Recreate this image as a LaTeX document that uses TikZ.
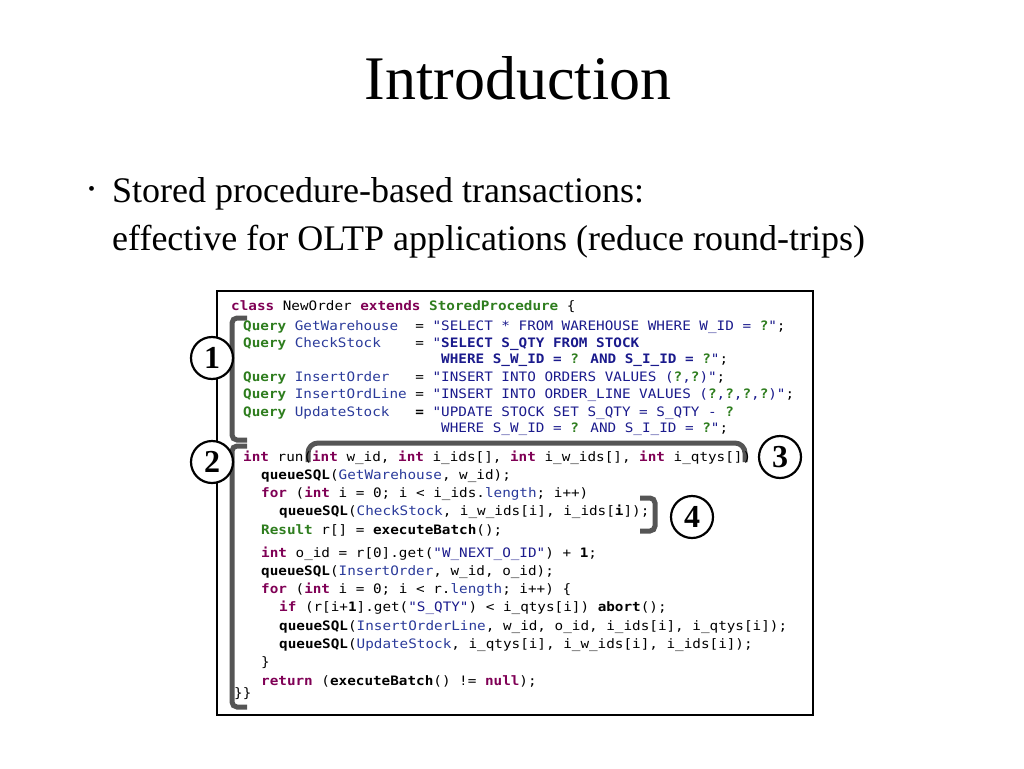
\documentclass[tikz,border=0pt]{standalone}
\usepackage{fontspec}
\setmainfont{Liberation Serif}
\newfontfamily\codefont[FakeStretch=1.1]{DejaVu Sans Mono}
\definecolor{kwc}{HTML}{7F0055}
\definecolor{tyc}{HTML}{2E7D1E}
\definecolor{idc}{HTML}{2A3A9A}
\definecolor{stc}{HTML}{1A1A8C}
\definecolor{brc}{HTML}{555555}
\newcommand{\kw}[1]{\textcolor{kwc}{\bfseries #1}}
\newcommand{\ty}[1]{\textcolor{tyc}{\bfseries #1}}
\newcommand{\iden}[1]{\textcolor{idc}{#1}}
\newcommand{\str}[1]{\textcolor{stc}{#1}}
\newcommand{\qm}{\textcolor{tyc}{\bfseries ?}}
\newcommand{\fn}[1]{\textbf{#1}}
\begin{document}
\begin{tikzpicture}[x=1pt,y=-1pt,
  code/.style={anchor=west,inner sep=0pt,font=\codefont\fontsize{13}{15}\selectfont},
  brk/.style={draw=brc,line width=5pt,rounded corners=5pt},
  num/.style={circle,draw,line width=2.2pt,minimum size=42pt,inner sep=0pt,font=\fontsize{32}{32}\selectfont\bfseries}]
\useasboundingbox (0,0) rectangle (1024,768);
\node[font=\fontsize{62}{64}\selectfont] (title) at (518,78) {Introduction};
\node[anchor=west,inner sep=0pt,font=\fontsize{20}{20}\selectfont] (bul) at (88,191) {•};
\node[anchor=base west,inner sep=0pt,font=\fontsize{36}{36}\selectfont] (txt1) at (112,202) {Stored procedure-based transactions:};
\node[anchor=base west,inner sep=0pt,font=\fontsize{36}{36}\selectfont] (txt2) at (112,250) {effective for OLTP applications (reduce round-trips)};
\node[draw,line width=1.5pt,minimum width=596pt,minimum height=424pt,anchor=north west,inner sep=0pt] (box) at (216,290) {};
% brackets
\draw[brk] (247,318) -- (232,318) -- (232,440) -- (247,440);
\draw[brk] (247,446) -- (232,446) -- (232,707) -- (247,707);
\draw[brk,rounded corners=10pt] (308,462) -- (308,443) -- (745,443) -- (745,462);
\draw[brk] (640,498) -- (655,498) -- (655,531) -- (640,531);
\node[num,fill=white] (n1) at (212,358) {1};
\node[num,fill=white] (n2) at (212,462) {2};
\node[num,fill=white] (n3) at (780,457) {3};
\node[num,fill=white] (n4) at (692,517) {4};
% code
\node[code] (c1) at (231,307) {\kw{class} NewOrder \kw{extends} \ty{StoredProcedure} \{};
\node[code] (c2) at (243,327) {\ty{Query} \iden{GetWarehouse}~~= \str{"SELECT * FROM WAREHOUSE WHERE W\_ID = \qm"};};
\node[code] (c3) at (243,344) {\ty{Query} \iden{CheckStock}~~~~= \str{"\textbf{SELECT S\_QTY FROM STOCK}}};
\node[code] (c4) at (243,360) {~~~~~~~~~~~~~~~~~~~~~~~\str{\textbf{WHERE S\_W\_ID = \qm{} AND S\_I\_ID = \qm}"};};
\node[code] (c5) at (243,378) {\ty{Query} \iden{InsertOrder}~~~= \str{"INSERT INTO ORDERS VALUES (\qm,\qm)"};};
\node[code] (c6) at (243,395) {\ty{Query} \iden{InsertOrdLine} = \str{"INSERT INTO ORDER\_LINE VALUES (\qm,\qm,\qm,\qm)"};};
\node[code] (c7) at (243,413) {\ty{Query} \iden{UpdateStock}~~~\textbf{=} \str{"UPDATE STOCK SET S\_QTY = S\_QTY - \qm}};
\node[code] (c8) at (243,429) {~~~~~~~~~~~~~~~~~~~~~~~\str{WHERE S\_W\_ID = \qm{} AND S\_I\_ID = \qm"};};
\node[code] (c9) at (243,458) {\kw{int} run(\kw{int} w\_id, \kw{int} i\_ids[], \kw{int} i\_w\_ids[], \kw{int} i\_qtys[])};
\node[code] (c10) at (261,476) {\fn{queueSQL}(\iden{GetWarehouse}, w\_id);};
\node[code] (c11) at (261,494) {\kw{for} (\kw{int} i = 0; i < i\_ids.\iden{length}; i++)};
\node[code] (c12) at (279,512) {\fn{queueSQL}(\iden{CheckStock}, i\_w\_ids[i], i\_ids[\textbf{i}]);};
\node[code] (c13) at (261,530) {\ty{Result} r[] = \fn{executeBatch}();};
\node[code] (c14) at (261,554) {\kw{int} o\_id = r[0].get(\str{"W\_NEXT\_O\_ID"}) + \textbf{1};};
\node[code] (c15) at (261,572) {\fn{queueSQL}(\iden{InsertOrder}, w\_id, o\_id);};
\node[code] (c16) at (261,590) {\kw{for} (\kw{int} i = 0; i < r.\iden{length}; i++) \{};
\node[code] (c17) at (279,608) {\kw{if} (r[i+\textbf{1}].get(\str{"S\_QTY"}) < i\_qtys[i]) \fn{abort}();};
\node[code] (c18) at (279,627) {\fn{queueSQL}(\iden{InsertOrderLine}, w\_id, o\_id, i\_ids[i], i\_qtys[i]);};
\node[code] (c19) at (279,645) {\fn{queueSQL}(\iden{UpdateStock}, i\_qtys[i], i\_w\_ids[i], i\_ids[i]);};
\node[code] (c20) at (261,663) {\}};
\node[code] (c21) at (261,681) {\kw{return} (\fn{executeBatch}() != \kw{null});};
\node[code] (c22) at (234,694) {\}\}};
\end{tikzpicture}
\end{document}
